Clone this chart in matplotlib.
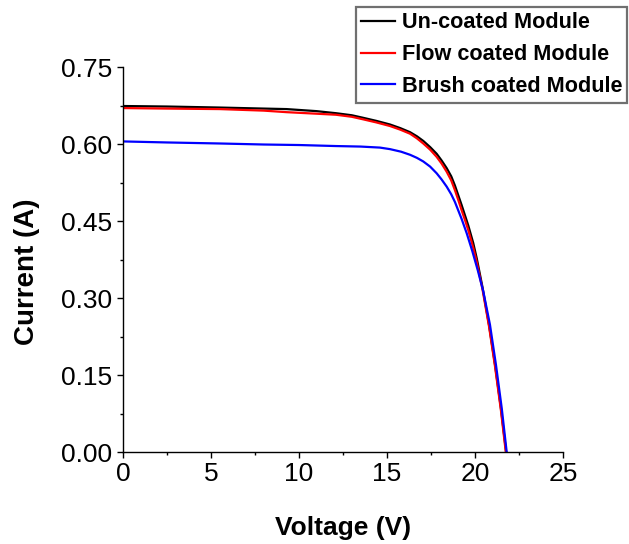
import matplotlib
matplotlib.use("Agg")
import matplotlib.pyplot as plt
from matplotlib.ticker import MultipleLocator, FormatStrFormatter

plt.rcParams['font.family'] = ['Liberation Sans', 'DejaVu Sans']

# I-V characteristics of the three modules
v_uncoated = [0.0, 2.5, 5.5, 8.0, 9.3, 11.0, 12.1, 13.0, 13.65, 14.4, 15.17, 15.75,
              16.31, 16.7, 17.06, 17.45, 17.82, 18.1, 18.39, 18.65, 18.86, 19.05,
              19.24, 19.44, 19.62, 19.9, 20.1, 20.42, 20.8, 21.14, 21.47, 21.77]
i_uncoated = [0.674, 0.673, 0.671, 0.669, 0.668, 0.664, 0.660, 0.656, 0.651, 0.645,
              0.638, 0.631, 0.623, 0.615, 0.606, 0.594, 0.581, 0.568, 0.553, 0.537,
              0.519, 0.500, 0.481, 0.460, 0.441, 0.407, 0.377, 0.322, 0.247, 0.170,
              0.086, 0.0]

v_flow = [0.0, 2.5, 5.5, 8.0, 9.3, 11.0, 12.1, 13.0, 13.65, 14.4, 15.17, 15.75,
          16.31, 16.7, 17.06, 17.45, 17.82, 18.1, 18.39, 18.65, 18.86, 19.05,
          19.24, 19.44, 19.62, 19.9, 20.1, 20.42, 20.8, 21.14, 21.47, 21.75]
i_flow = [0.670, 0.669, 0.668, 0.665, 0.662, 0.659, 0.657, 0.653, 0.648, 0.642,
          0.635, 0.628, 0.620, 0.611, 0.601, 0.589, 0.575, 0.562, 0.546, 0.529,
          0.510, 0.491, 0.471, 0.451, 0.432, 0.398, 0.370, 0.318, 0.244, 0.166,
          0.082, 0.0]

v_brush = [0.0, 2.5, 5.5, 8.0, 10.0, 12.1, 13.5, 14.6, 15.17, 15.8, 16.31, 16.7,
           17.06, 17.45, 17.82, 18.1, 18.39, 18.65, 18.86, 19.24, 19.53, 19.85,
           20.15, 20.47, 20.85, 21.19, 21.52, 21.8]
i_brush = [0.605, 0.603, 0.601, 0.599, 0.598, 0.596, 0.595, 0.593, 0.590, 0.585,
           0.579, 0.573, 0.566, 0.556, 0.543, 0.531, 0.517, 0.502, 0.487, 0.454,
           0.426, 0.391, 0.355, 0.313, 0.248, 0.170, 0.085, 0.0]

labels = ['Un-coated Module', 'Flow coated Module', 'Brush coated Module']
colors = ['#000000', '#ff0000', '#0000ff']

fig = plt.figure(figsize=(6.29, 5.44), dpi=100)
ax = fig.add_axes([123 / 629, 1 - 452 / 544, 440 / 629, 385 / 544])

lines = []
for v, i, c, lab in zip([v_uncoated, v_flow, v_brush],
                        [i_uncoated, i_flow, i_brush], colors, labels):
    ln, = ax.plot(v, i, color=c, lw=1.6, label=lab, solid_joinstyle='round')
    lines.append(ln)

ax.set_xlim(0, 25)
ax.set_ylim(0, 0.75)
ax.xaxis.set_major_locator(MultipleLocator(5))
ax.xaxis.set_minor_locator(MultipleLocator(2.5))
ax.yaxis.set_major_locator(MultipleLocator(0.15))
ax.yaxis.set_minor_locator(MultipleLocator(0.075))
ax.yaxis.set_major_formatter(FormatStrFormatter('%.2f'))

for side in ['top', 'right']:
    ax.spines[side].set_visible(False)
for side in ['left', 'bottom']:
    ax.spines[side].set_linewidth(1.0)

ax.tick_params(which='major', direction='out', length=4.5, width=1.0,
               labelsize=19, pad=3)
ax.tick_params(which='minor', direction='out', length=2.5, width=1.0)

ax.set_xlabel('Voltage (V)', fontsize=19, fontweight='bold')
ax.set_ylabel('Current (A)', fontsize=20, fontweight='bold')
ax.xaxis.set_label_coords(0.5, -0.165)
ax.yaxis.set_label_coords(-0.218, 0.4675)
ax.yaxis.label.set_va('center')

leg = fig.legend(handles=lines, loc='upper left',
                 bbox_to_anchor=(356 / 629, 1 - 7 / 544),
                 prop={'weight': 'bold', 'size': 15.6},
                 frameon=True, fancybox=False, shadow=False,
                 handlelength=1.55, handletextpad=0.3, borderpad=0.25,
                 labelspacing=0.5, borderaxespad=0)
frame = leg.get_frame()
frame.set_edgecolor('#707070')
frame.set_linewidth(1.6)
frame.set_facecolor('white')
frame.set_alpha(1)

fig.savefig('out.png', dpi=100)
